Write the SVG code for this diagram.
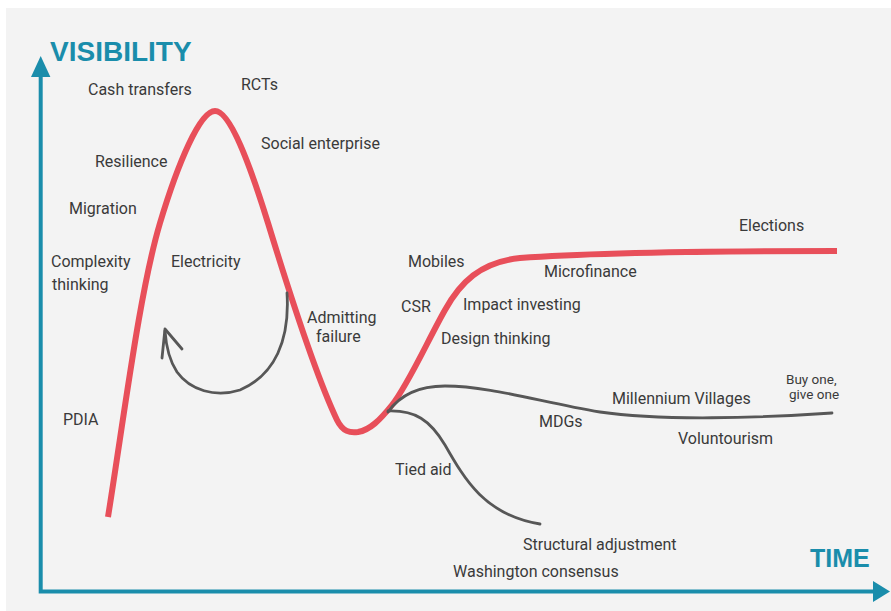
<svg xmlns="http://www.w3.org/2000/svg" width="891" height="611" viewBox="0 0 891 611">
<style>
.lbl{font-family:Roboto,"Liberation Sans",sans-serif;font-size:16px;fill:#3a3a3a}
.sm{font-size:13.5px}
.axt{font-family:"Liberation Sans",Arial,sans-serif;font-weight:bold;fill:#1a8dab}
.axis{stroke:#1a8dab;stroke-width:4;fill:none}
.red{stroke:#e84f5a;stroke-width:6;fill:none;stroke-linecap:butt;stroke-linejoin:round}
.grey{stroke:#575757;stroke-width:2.8;fill:none;stroke-linecap:round;stroke-linejoin:round}
</style>
<rect x="0" y="0" width="891" height="611" fill="#ffffff"/>
<rect x="6" y="8" width="885" height="603" fill="#f3f3f3"/>
<g id="axes">
<path class="axis" d="M40.7,72 V591.5 H878"/>
<polygon points="40.7,56 31,77 50.4,77" fill="#1a8dab"/>
<polygon points="890,591.5 873,581 873,602" fill="#1a8dab"/>
<text class="axt" x="50" y="61" font-size="28">VISIBILITY</text>
<text class="axt" x="810" y="567" font-size="25">TIME</text>
</g>
<g id="connectors">
<path id="hype-curve" class="red" d="M108,517 C125,410 140,290 160,223 C178,163 200,111 215,111 C230,111 250,165 268,223 C290,295 318,380 337,420 C343,432 350,433 358,432 C370,430 380,420 392,405 C408,385 428,340 445,310 C460,283 480,262 520,258 C600,252 720,251 837,251"/>
<path id="loop" class="grey" stroke-width="3" d="M287,293 C290,340 275,375 240,390 C215,398 190,390 177,372 C169,360 166,345 165,331"/>
<path id="loop-head" class="grey" stroke-width="3" d="M162,358 L165,329 L182,349"/>
<path id="plateau-line" class="grey" d="M388,412 C400,395 420,386 445,386 C490,386 540,402 600,412 C660,421 760,418 832,413"/>
<path id="decline-line" class="grey" stroke-width="2.2" d="M388,411 C415,410 430,420 445,445 C465,480 485,515 540,524"/>
</g>
<g id="labels">
<g id="n-cash"><text class="lbl" x="88" y="95">Cash transfers</text></g>
<g id="n-rcts"><text class="lbl" x="241" y="90">RCTs</text></g>
<g id="n-social"><text class="lbl" x="261" y="149">Social enterprise</text></g>
<g id="n-resilience"><text class="lbl" x="95" y="167">Resilience</text></g>
<g id="n-migration"><text class="lbl" x="69" y="214">Migration</text></g>
<g id="n-complexity"><text class="lbl" x="51" y="267">Complexity</text><text class="lbl" x="52" y="290">thinking</text></g>
<g id="n-electricity"><text class="lbl" x="171" y="267">Electricity</text></g>
<g id="n-pdia"><text class="lbl" x="63" y="425">PDIA</text></g>
<g id="n-admitting"><text class="lbl" x="307" y="323">Admitting</text><text class="lbl" x="316" y="342">failure</text></g>
<g id="n-mobiles"><text class="lbl" x="408" y="267">Mobiles</text></g>
<g id="n-csr"><text class="lbl" x="401" y="312">CSR</text></g>
<g id="n-impact"><text class="lbl" x="463" y="310">Impact investing</text></g>
<g id="n-design"><text class="lbl" x="441" y="344">Design thinking</text></g>
<g id="n-microfinance"><text class="lbl" x="544" y="277">Microfinance</text></g>
<g id="n-elections"><text class="lbl" x="739" y="231">Elections</text></g>
<g id="n-millennium"><text class="lbl" x="612" y="404">Millennium Villages</text></g>
<g id="n-buyone"><text class="lbl sm" x="786" y="384">Buy one,</text><text class="lbl sm" x="789" y="399">give one</text></g>
<g id="n-mdgs"><text class="lbl" x="539" y="427">MDGs</text></g>
<g id="n-voluntourism"><text class="lbl" x="678" y="444">Voluntourism</text></g>
<g id="n-tied"><text class="lbl" x="395" y="475">Tied aid</text></g>
<g id="n-structural"><text class="lbl" x="523" y="550">Structural adjustment</text></g>
<g id="n-washington"><text class="lbl" x="453" y="577">Washington consensus</text></g>
</g>
</svg>
